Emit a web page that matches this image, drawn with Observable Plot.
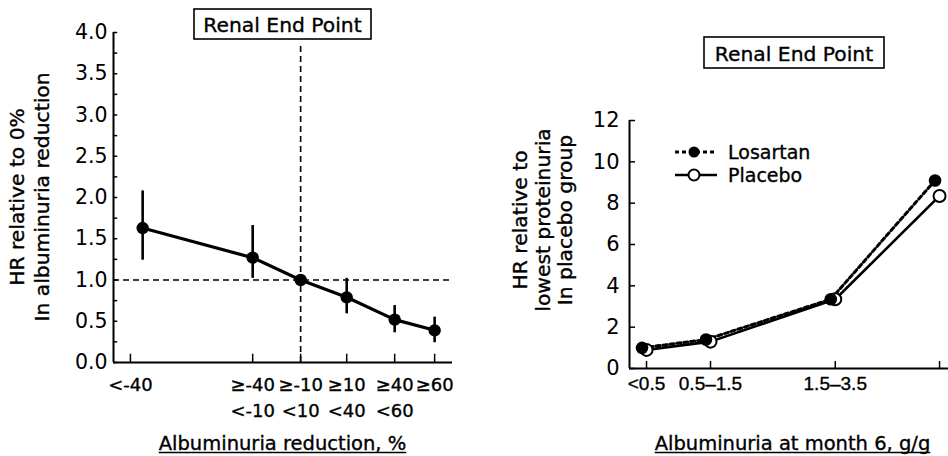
<!DOCTYPE html>
<html>
<head>
<meta charset="utf-8">
<script src="https://cdn.jsdelivr.net/npm/d3@7"></script>
<script src="https://cdn.jsdelivr.net/npm/@observablehq/plot@0.6"></script>
<style>
  html, body { margin: 0; padding: 0; background: #fff; }
  #wrap { position: relative; width: 948px; height: 456px; overflow: hidden; font-family: "DejaVu Sans", sans-serif; }
  #left { position: absolute; left: 0; top: 0; }
  #right { position: absolute; left: 474px; top: 0; }
  #overlay { position: absolute; left: 0; top: 0; pointer-events: none; }
</style>
</head>
<body>
<div id="wrap">
  <div id="left"></div>
  <div id="right"></div>
  <svg id="overlay" width="948" height="456"></svg>
</div>
<script>
// ---------- Left panel: HR by albuminuria reduction category ----------
const reductionCats = ["<-40", "≥-40\n<-10", "≥-10\n<10", "≥10\n<40", "≥40\n<60", "≥60"];
// category positions along the x axis (axis units)
const reductionTickPos = [-3.62, -1.02, 0, 0.98, 2.0, 2.85];
const reductionPointPos = [-3.36, -1.02, 0, 0.98, 2.0, 2.85];
const hrReduction   = [1.63, 1.27, 1.00, 0.79, 0.52, 0.39];
const hrReductionLo = [1.24, 1.02, 1.00, 0.59, 0.36, 0.24];
const hrReductionHi = [2.08, 1.66, 1.00, 1.02, 0.69, 0.55];
const leftYTicks = [0, 0.5, 1.0, 1.5, 2.0, 2.5, 3.0, 3.5, 4.0];
const leftYMinorTicks = [0.25, 0.75, 1.25, 1.75, 2.25, 2.75, 3.25, 3.75];

// ---------- Right panel: HR by albuminuria at month 6 ----------
const albCats = ["<0.5", "0.5–1.5", "1.5–3.5", "≥3.5"];
const albPos = [0, 1, 2.95, 4.58];
const losartanHR = [1.0, 1.4, 3.35, 9.1];
const placeboHR  = [0.9, 1.3, 3.35, 8.35];
const rightYTicks = [0, 2, 4, 6, 8, 10, 12];
const seriesNames = ["Losartan", "Placebo"];

const leftData = reductionCats.map((c, i) => ({cat: c, x: reductionPointPos[i], hr: hrReduction[i], lo: hrReductionLo[i], hi: hrReductionHi[i]}));
const leftTicks = reductionCats.map((c, i) => ({label: c, x: reductionTickPos[i]}));

const TXT = {fill: "black", stroke: "black", strokeWidth: 0.35};

const lx = [-3.98, 3.23];
const leftPlot = Plot.plot({
  width: 474, height: 456,
  marginLeft: 113, marginRight: 22, marginTop: 32, marginBottom: 94,
  style: {font: "20px 'DejaVu Sans', sans-serif", background: "white", color: "black", overflow: "visible"},
  x: {domain: lx, axis: null},
  y: {domain: [0, 4]},
  marks: [
    Plot.ruleY([1], {strokeDasharray: "6,4", strokeWidth: 1.6}),
    Plot.ruleX([0], {y1: 0, y2: 3.87, strokeDasharray: "6,4", strokeWidth: 1.6}),
    Plot.ruleX([lx[0]], {y1: 0, y2: 4, strokeWidth: 2}),
    Plot.ruleY([0], {strokeWidth: 2}),
    Plot.ruleY(leftYTicks.concat(leftYMinorTicks), {y: d => d, x1: lx[0], x2: lx[0] + 0.09, strokeWidth: 1.5}),
    Plot.axisY({ticks: leftYTicks, tickFormat: d3.format(".1f"), tickSize: 0, tickPadding: 6, fontSize: 20.5, label: null, ...TXT}),
    Plot.ruleX(leftTicks, {x: "x", y1: 0, y2: 0.1, strokeWidth: 1.5}),
    Plot.text(leftTicks, {x: "x", text: "label", frameAnchor: "bottom", lineAnchor: "top", dy: 9.5, lineHeight: 1.45, fontSize: 18, ...TXT}),
    Plot.ruleX(leftData, {x: "x", y1: "lo", y2: "hi", strokeWidth: 2.6}),
    Plot.line(leftData, {x: "x", y: "hr", strokeWidth: 3.2}),
    Plot.dot(leftData, {x: "x", y: "hr", r: 6.2, fill: "black"})
  ]
});
document.getElementById("left").appendChild(leftPlot);

const losData = albCats.map((c, i) => ({cat: c, x: albPos[i], hr: losartanHR[i]}));
const plaData = albCats.map((c, i) => ({cat: c, x: albPos[i], hr: placeboHR[i]}));
// the last category label lies outside the cropped picture
const albTickLabels = albCats.map((c, i) => ({label: c, x: albPos[i]})).slice(0, 3);

const rx = [-0.266, 4.72];
const rightPlot = Plot.plot({
  width: 474, height: 456,
  marginLeft: 155, marginRight: 0, marginTop: 120, marginBottom: 88,
  style: {font: "20px 'DejaVu Sans', sans-serif", background: "white", color: "black", overflow: "visible"},
  x: {domain: rx, axis: null},
  y: {domain: [0, 12]},
  marks: [
    Plot.ruleX([rx[0]], {y1: 0, y2: 12, strokeWidth: 2}),
    Plot.ruleY([0], {strokeWidth: 2}),
    Plot.ruleY(rightYTicks, {y: d => d, x1: rx[0], x2: rx[0] + 0.094, strokeWidth: 1.5}),
    Plot.axisY({ticks: rightYTicks, tickSize: 0, tickPadding: 10, fontSize: 21, label: null, ...TXT}),
    Plot.ruleX(albPos, {x: d => d, y1: 0, y2: 0.34, strokeWidth: 1.5}),
    Plot.text(albTickLabels, {x: "x", text: "label", frameAnchor: "bottom", lineAnchor: "top", dy: 8, fontSize: 19, fontFamily: "'Liberation Sans', Arial, sans-serif", ...TXT}),
    Plot.line(plaData, {x: "x", y: "hr", strokeWidth: 2.6}),
    Plot.line(losData, {x: "x", y: "hr", dx: -4.5, strokeWidth: 3, strokeDasharray: "4,3"}),
    Plot.dot(plaData, {x: "x", y: "hr", r: 6, fill: "white", stroke: "black", strokeWidth: 2}),
    Plot.dot(losData, {x: "x", y: "hr", dx: -4.5, r: 6.3, fill: "black"})
  ]
});
document.getElementById("right").appendChild(rightPlot);

// ---------- Titles, axis titles, legend ----------
const ov = d3.select("#overlay");
const FONT = "'DejaVu Sans', sans-serif";

function styledText(sel, size) {
  return sel.attr("font-family", FONT).attr("font-size", size)
    .attr("fill", "black").attr("stroke", "black").attr("stroke-width", 0.35);
}

function titleBox(x0, y0, w, h, text) {
  ov.append("rect").attr("x", x0).attr("y", y0).attr("width", w).attr("height", h)
    .attr("fill", "white").attr("stroke", "black").attr("stroke-width", 1.6);
  styledText(ov.append("text").attr("x", x0 + w / 2).attr("y", y0 + h / 2 + 1)
    .attr("text-anchor", "middle").attr("dominant-baseline", "central"), 20.3).text(text);
}
titleBox(194, 9, 177, 30, "Renal End Point");
titleBox(704, 37, 180, 31, "Renal End Point");

function rotatedLabel(lines, xs, cy) {
  lines.forEach((t, i) => {
    styledText(ov.append("text").attr("transform", `translate(${xs[i]},${cy}) rotate(-90)`)
      .attr("text-anchor", "middle").attr("dominant-baseline", "central"), 20.3).text(t);
  });
}
rotatedLabel(["HR relative to 0%", "In albuminuria reduction"], [17, 42], 197);
rotatedLabel(["HR relative to", "lowest proteinuria", "In placebo group"], [520, 543, 565], 220);

function underlinedTitle(cx, baseline, text) {
  const t = styledText(ov.append("text").attr("x", cx).attr("y", baseline)
    .attr("text-anchor", "middle"), 19.5).text(text);
  const w = t.node().getComputedTextLength();
  ov.append("line").attr("x1", cx - w / 2).attr("x2", cx + w / 2)
    .attr("y1", baseline + 2.5).attr("y2", baseline + 2.5).attr("stroke", "black").attr("stroke-width", 1.6);
}
underlinedTitle(282.5, 450, "Albuminuria reduction, %");
underlinedTitle(792.5, 450, "Albuminuria at month 6, g/g");

// legend
const legY = [152, 175];
const lg = ov.append("g");
lg.append("line").attr("x1", 675).attr("x2", 717).attr("y1", legY[0]).attr("y2", legY[0])
  .attr("stroke", "black").attr("stroke-width", 3).attr("stroke-dasharray", "4,3");
lg.append("circle").attr("cx", 694).attr("cy", legY[0]).attr("r", 5.5).attr("fill", "black");
lg.append("line").attr("x1", 675).attr("x2", 717).attr("y1", legY[1]).attr("y2", legY[1])
  .attr("stroke", "black").attr("stroke-width", 2.6);
lg.append("circle").attr("cx", 694).attr("cy", legY[1]).attr("r", 5.5).attr("fill", "white")
  .attr("stroke", "black").attr("stroke-width", 2);
seriesNames.forEach((n, i) => {
  styledText(lg.append("text").attr("x", 728).attr("y", legY[i]).attr("dominant-baseline", "central"), 19).text(n);
});
</script>
</body>
</html>
